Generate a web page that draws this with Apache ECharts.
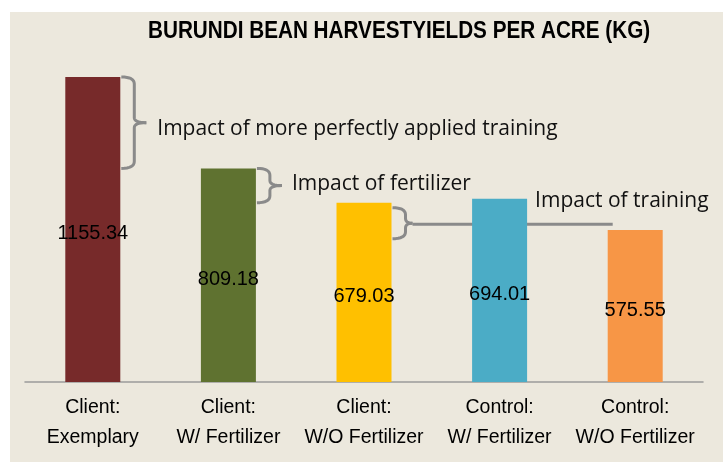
<!DOCTYPE html>
<html>
<head>
<meta charset="utf-8">
<script src="https://cdn.jsdelivr.net/npm/echarts@6/dist/echarts.min.js"></script>
<style>
html,body{margin:0;padding:0;background:#ffffff;}
#chart{width:723px;height:462px;}
</style>
</head>
<body>
<div id="chart"></div>
<script>
const categories = ['Client:\nExemplary', 'Client:\nW/ Fertilizer', 'Client:\nW/O Fertilizer', 'Control:\nW/ Fertilizer', 'Control:\nW/O Fertilizer'];
const values = [1155.34, 809.18, 679.03, 694.01, 575.55];
const barColors = ['#772A2A', '#5F7230', '#FFC000', '#4BACC6', '#F79646'];
const titleText = 'BURUNDI BEAN HARVESTYIELDS PER ACRE (KG)';
const annotationTexts = ['Impact of more perfectly applied training', 'Impact of fertilizer', 'Impact of training'];

const chart = echarts.init(document.getElementById('chart'), null, {renderer: 'canvas'});
const FONT = '"Liberation Sans", sans-serif';
const ANN_FONT = '"Open Sans", "Liberation Sans", sans-serif';
const BAR_W = 55;

chart.setOption({
  animation: false,
  backgroundColor: 'transparent',
  grid: {left: 25, right: 20, top: 12.4, bottom: 80},
  xAxis: {
    type: 'category',
    data: categories,
    axisLine: {lineStyle: {color: '#9a9a9a', width: 1.5}},
    axisTick: {show: false},
    axisLabel: {color: '#000', fontFamily: FONT, fontSize: 19.5, lineHeight: 30, margin: 11, interval: 0}
  },
  yAxis: {type: 'value', min: 0, max: 1400, show: false, splitLine: {show: false}},
  series: [{
    type: 'bar',
    barWidth: BAR_W,
    data: values.map((v, i) => ({value: v, itemStyle: {color: barColors[i]}})),
    label: {
      show: true, position: 'inside', offset: [0, 4], color: '#000',
      fontFamily: FONT, fontSize: 20,
      formatter: p => p.value.toFixed(2)
    }
  }]
});

function px(i) { return chart.convertToPixel({seriesIndex: 0}, [i, values[i]]); }

function quad(pts, a, c, b, n) {
  for (let k = 1; k <= n; k++) {
    const t = k / n, u = 1 - t;
    pts.push([u * u * a[0] + 2 * u * t * c[0] + t * t * b[0], u * u * a[1] + 2 * u * t * c[1] + t * t * b[1]]);
  }
}
// two polylines (upper and lower halves) of a right-pointing curly brace
function brace(x0, y1, y2, w, nub) {
  const x1 = x0 + w, ym = (y1 + y2) / 2, r = Math.min(7, (y2 - y1) / 4), r2 = 5;
  const up = [[x0, y1]];
  quad(up, [x0, y1], [x1, y1], [x1, y1 + r], 8);
  up.push([x1, ym - r2]);
  quad(up, [x1, ym - r2], [x1, ym], [x1 + nub, ym], 8);
  const lo = [[x1 + nub, ym]];
  quad(lo, [x1 + nub, ym], [x1, ym], [x1, ym + r2], 8);
  lo.push([x1, y2 - r]);
  quad(lo, [x1, y2 - r], [x1, y2], [x0, y2], 8);
  return [up, lo];
}

const p = values.map((v, i) => px(i));
const half = BAR_W / 2;
const braceStyle = {stroke: '#8a8a8a', lineWidth: 3, fill: null, lineJoin: 'round'};
const annStyle = (t) => ({text: t, fontFamily: ANN_FONT, fontSize: 21, fill: '#111', verticalAlign: 'middle', align: 'left'});

const gfx = [
  {type: 'rect', z: -10, silent: true, shape: {x: 10, y: 12, width: 723, height: 462}, style: {fill: '#ECE8DD'}},
  {type: 'text', x: 148, y: 32, scaleX: 0.9, style: {text: titleText, fontFamily: FONT, fontWeight: 'bold', fontSize: 23, fill: '#000', verticalAlign: 'middle', align: 'left'}}
];

function addBrace(x0, y1, y2, w, nub) {
  brace(x0, y1, y2, w, nub).forEach(pts => gfx.push({type: 'polyline', shape: {points: pts}, style: braceStyle}));
  return {xEnd: x0 + w + nub, ym: (y1 + y2) / 2};
}

const b1 = addBrace(p[0][0] + half + 1, p[0][1], p[1][1], 13, 12);
gfx.push({type: 'text', x: b1.xEnd + 11, y: b1.ym + 6, style: annStyle(annotationTexts[0])});
const b2 = addBrace(p[1][0] + half + 1, p[1][1], p[2][1], 13, 12);
gfx.push({type: 'text', x: b2.xEnd + 10, y: b2.ym - 2, style: annStyle(annotationTexts[1])});
const b3 = addBrace(p[2][0] + half + 1, p[2][1] + 5, p[2][1] + 36, 13, 7);
gfx.push({type: 'line', shape: {x1: b3.xEnd, y1: b3.ym + 1, x2: p[4][0] - half + 5, y2: b3.ym + 1}, style: {stroke: '#8a8a8a', lineWidth: 3}});
gfx.push({type: 'text', x: p[3][0] + half + 8, y: b3.ym - 22, style: annStyle(annotationTexts[2])});

chart.setOption({graphic: gfx});
</script>
</body>
</html>
